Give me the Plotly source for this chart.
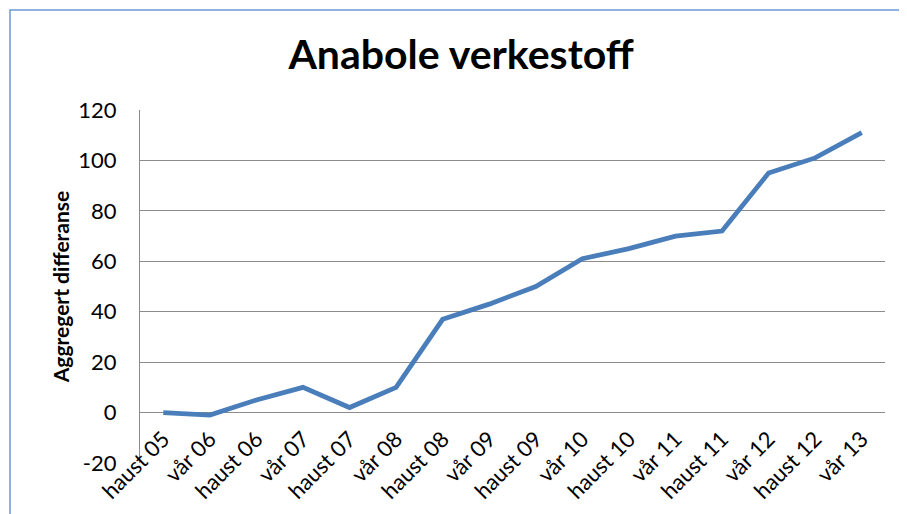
import plotly.graph_objects as go

perioder = ['haust 05', 'vår 06', 'haust 06', 'vår 07', 'haust 07', 'vår 08',
            'haust 08', 'vår 09', 'haust 09', 'vår 10', 'haust 10', 'vår 11',
            'haust 11', 'vår 12', 'haust 12', 'vår 13']
differanse = [0, -1, 5, 10, 2, 10, 37, 43, 50, 61, 65, 70, 72, 95, 101, 111]
y_ticks = [-20, 0, 20, 40, 60, 80, 100, 120]
y_tekst = ['-20', '0', '20', '40', '60', '80', '100', '120']

font = 'Lato'
grid = '#8c8c8c'

# siden har 8px marg rundt, så figuren er litt mindre enn vinduet
fig = go.Figure()
fig.add_trace(go.Scatter(x=perioder, y=differanse, mode='lines',
                         line=dict(color='#4a7ebb', width=4.8)))

fig.update_layout(
    width=899, height=506,
    margin=dict(l=132, r=22, t=102, b=51),
    paper_bgcolor='white', plot_bgcolor='white',
    showlegend=False,
    font=dict(family=font, color='black'),
    title=dict(text='<b>Anabole verkestoff</b>', font=dict(size=41, family=font),
               x=0.504, xanchor='center', xref='container',
               y=0.907, yanchor='middle', yref='container'),
    # ramme rundt diagrammet
    shapes=[dict(type='rect', xref='paper', yref='paper',
                 x0=(10 - 140) / 745, x1=(925 - 140) / 745,
                 y0=(463 - 530) / 353, y1=(463 - 10) / 353,
                 line=dict(color='#6a9ad8', width=1.5), layer='below')],
)

fig.update_xaxes(type='category', range=[-0.5, 15.5], tickangle=-45,
                 tickfont=dict(size=22), showgrid=False, showline=False,
                 ticks='', ticklabelstandoff=-42, automargin=False)
fig.update_yaxes(range=[-20, 120], tickvals=y_ticks, ticktext=y_tekst,
                 tickfont=dict(size=22),
                 showgrid=True, gridcolor=grid, gridwidth=1.2,
                 showline=True, linecolor=grid, linewidth=1.2,
                 zeroline=False, ticks='', ticklabelstandoff=18,
                 title=dict(text='<b>Aggregert differanse</b>',
                            font=dict(size=21), standoff=2),
                 automargin=False)

fig.write_html("out.html")
